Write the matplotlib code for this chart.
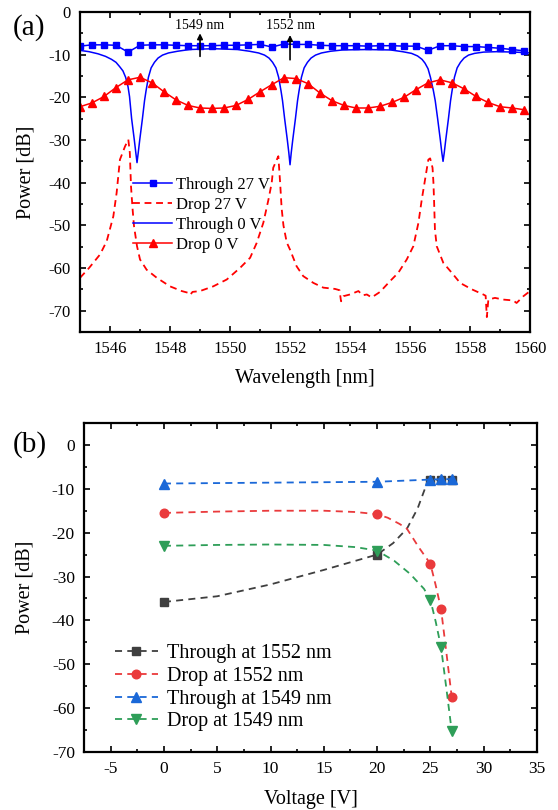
import numpy as np
import matplotlib
matplotlib.use("Agg")
import matplotlib.pyplot as plt
from matplotlib.ticker import MultipleLocator

plt.rcParams['font.family'] = ['Liberation Serif', 'DejaVu Serif']
plt.rcParams['axes.unicode_minus'] = False
plt.rcParams['mathtext.fontset'] = 'stix'

# ---------------- panel (a): spectra ----------------
# markers every 0.4 nm from 1545 to 1559.8
wl_markers = [1545.0, 1545.4, 1545.8, 1546.2, 1546.6, 1547.0, 1547.4, 1547.8, 1548.2, 1548.6,
              1549.0, 1549.4, 1549.8, 1550.2, 1550.6, 1551.0, 1551.4, 1551.8, 1552.2, 1552.6,
              1553.0, 1553.4, 1553.8, 1554.2, 1554.6, 1555.0, 1555.4, 1555.8, 1556.2, 1556.6,
              1557.0, 1557.4, 1557.8, 1558.2, 1558.6, 1559.0, 1559.4, 1559.8]
through_27 = [-8.0, -7.7, -7.7, -7.8, -9.4, -7.8, -7.7, -7.7, -7.8, -7.9,
              -7.9, -7.9, -7.8, -7.8, -7.7, -7.6, -8.2, -7.5, -7.6, -7.6,
              -7.8, -7.9, -7.9, -7.9, -8.0, -7.9, -7.9, -8.0, -8.0, -9.0,
              -7.9, -7.9, -8.1, -8.1, -8.3, -8.5, -8.8, -9.1]
drop_0 = [-22.2, -21.3, -19.8, -17.7, -15.9, -15.3, -16.6, -18.7, -20.6, -21.9,
          -22.5, -22.6, -22.5, -21.9, -20.5, -18.7, -17.0, -15.4, -15.6, -16.8,
          -19.0, -20.8, -21.9, -22.5, -22.5, -22.1, -21.2, -20.0, -18.2, -16.6,
          -15.9, -16.6, -18.0, -19.8, -21.2, -22.2, -22.5, -22.9]

wl_through_0 = [1545.0, 1545.3, 1545.6, 1545.85, 1546.05, 1546.2, 1546.32, 1546.43, 1546.52, 1546.6,
                1546.65, 1546.72, 1546.81, 1546.86, 1546.9, 1546.94, 1546.99, 1547.08, 1547.15, 1547.2,
                1547.28, 1547.37, 1547.48, 1547.6, 1547.75, 1547.95, 1548.25, 1548.65, 1549.45,
                1550.25, 1550.65, 1550.95, 1551.15, 1551.3, 1551.42, 1551.53, 1551.62, 1551.7, 1551.75,
                1551.82, 1551.91, 1551.96, 1552.0, 1552.04, 1552.09, 1552.18, 1552.25, 1552.3, 1552.38,
                1552.47, 1552.58, 1552.7, 1552.85, 1553.05, 1553.35, 1553.75, 1554.55,
                1555.35, 1555.75, 1556.05, 1556.25, 1556.4, 1556.5, 1556.6, 1556.68, 1556.78, 1556.84,
                1556.92, 1557.01, 1557.06, 1557.1, 1557.14, 1557.19, 1557.28, 1557.35, 1557.4, 1557.48,
                1557.57, 1557.68, 1557.8, 1557.95, 1558.15, 1558.45, 1558.9, 1559.5, 1560.0]
through_0 = [-9.0, -9.3, -9.8, -10.4, -11.1, -11.8, -12.8, -13.8, -15.3, -17.5,
             -19.8, -25.0, -30.0, -33.0, -35.3, -33.0, -30.0, -25.0, -20.8, -18.5,
             -15.3, -13.1, -11.8, -10.8, -10.1, -9.6, -9.2, -8.8, -8.6,
             -8.8, -9.2, -9.6, -10.1, -10.8, -11.8, -13.1, -15.3, -18.5, -20.8,
             -25.0, -30.0, -33.0, -35.8, -33.0, -30.0, -25.0, -20.8, -18.5, -15.3,
             -13.1, -11.8, -10.8, -10.1, -9.6, -9.2, -8.9, -8.8,
             -8.9, -9.3, -9.7, -10.3, -11.1, -12.0, -13.3, -15.3, -18.5, -20.8,
             -25.0, -30.0, -33.0, -35.0, -33.0, -30.0, -25.0, -20.8, -18.5, -15.3,
             -13.1, -11.8, -10.8, -10.1, -9.7, -9.4, -9.3, -9.4, -9.6]

wl_drop_27 = [1545.0, 1545.3, 1545.67, 1545.89, 1546.11, 1546.22, 1546.33, 1546.5, 1546.61, 1546.66,
              1546.7, 1546.75, 1546.8, 1546.9, 1547.0, 1547.22, 1547.56, 1548.0, 1548.39, 1548.6,
              1548.67, 1548.75, 1549.0, 1549.44, 1549.89, 1550.33, 1550.67, 1550.89, 1551.11, 1551.28,
              1551.39, 1551.44, 1551.61, 1551.67, 1551.72, 1551.78, 1551.89, 1552.0, 1552.22, 1552.44,
              1552.78, 1553.11, 1553.5, 1553.65, 1553.7, 1553.78, 1554.0, 1554.28, 1554.42, 1554.56,
              1554.72, 1555.0, 1555.33, 1555.61, 1555.89, 1556.11, 1556.28, 1556.39, 1556.5, 1556.61,
              1556.67, 1556.75, 1556.78, 1556.8, 1556.83, 1556.89, 1557.11, 1557.39, 1557.67, 1558.06,
              1558.44, 1558.52, 1558.56, 1558.61, 1558.83, 1559.11, 1559.44, 1559.55, 1559.78, 1560.0]
drop_27 = [-62.3, -60.0, -56.8, -53.7, -47.9, -42.4, -34.6, -31.5, -29.9, -33.0,
           -40.9, -46.0, -50.2, -54.9, -58.0, -60.4, -62.3, -64.3, -65.4, -65.8,
           -66.3, -65.6, -65.4, -64.3, -62.7, -60.0, -57.6, -54.1, -49.4, -44.0,
           -40.0, -36.5, -33.8, -40.0, -46.0, -50.0, -54.0, -55.7, -59.6, -61.9,
           -63.5, -64.6, -64.9, -65.2, -67.8, -66.6, -66.2, -65.4, -66.4, -66.2,
           -66.9, -65.6, -63.1, -61.1, -58.0, -54.9, -49.4, -44.0, -39.3, -34.6,
           -34.3, -36.5, -40.0, -44.0, -51.0, -54.9, -58.8, -61.1, -63.5, -65.0,
           -66.2, -66.5, -71.5, -67.4, -67.0, -67.4, -67.6, -68.2, -66.6, -65.4]

arrow_wl = [1549, 1552]
arrow_labels = ['1549 nm', '1552 nm']

# ---------------- panel (b): power vs voltage ----------------
voltage = [0, 20, 25, 26, 27]
thr_1552 = [-35.8, -25.0, -8.0, -8.0, -8.0]
drop_1552 = [-15.5, -15.8, -27.1, -37.4, -57.4]
thr_1549 = [-8.8, -8.4, -7.9, -7.8, -7.8]
drop_1549 = [-23.0, -24.1, -35.3, -46.1, -65.2]

# connecting curves
v_thr_1552 = [0, 5, 10, 15, 20, 21.5, 22.8, 23.8, 24.7, 25, 26, 27]
c_thr_1552 = [-35.8, -34.5, -31.8, -28.5, -25.0, -22.4, -19.1, -14.5, -8.6, -8.0, -8.0, -8.0]
v_drop_1552 = [0, 5, 10, 15, 18, 20, 21, 22.1, 22.8, 23.9, 25, 25.5, 26, 26.5, 27]
c_drop_1552 = [-15.5, -15.2, -15.0, -15.0, -15.3, -15.8, -16.6, -18.0, -19.1, -23.3, -27.1, -32.0, -37.4, -47.3, -57.4]
v_thr_1549 = [0, 10, 20, 25, 26, 27]
c_thr_1549 = [-8.8, -8.6, -8.4, -7.9, -7.8, -7.8]
v_drop_1549 = [0, 5, 10, 15, 18, 20, 21.6, 23.1, 24.4, 25, 25.5, 26, 26.5, 27]
c_drop_1549 = [-23.0, -22.8, -22.7, -22.8, -23.3, -24.1, -26.4, -29.4, -32.8, -35.3, -40.3, -46.1, -55.5, -65.2]

fig = plt.figure(figsize=(5.58, 8.10), dpi=100)
ax1 = fig.add_axes([0.1434, 0.5901, 0.8065, 0.3951])
ax2 = fig.add_axes([0.1505, 0.0716, 0.8118, 0.4062])


def style_axis(ax, size=12):
    for s in ax.spines.values():
        s.set_linewidth(1.6)
    ax.tick_params(which='both', direction='in', top=True, right=True, labelsize=size)
    ax.tick_params(which='major', length=4.5, width=1.2, pad=6.5)
    ax.tick_params(which='minor', length=2.5, width=1.2)


# (a)
ax1.plot(wl_markers, through_27, color='#0000ff', lw=1.1, marker='s', ms=4.6,
         label='Through 27 V')
ax1.plot(wl_drop_27, drop_27, color='#ff0000', lw=1.3, ls=(0, (3.8, 2.6)),
         label='Drop 27 V')
ax1.plot(wl_through_0, through_0, color='#0000ff', lw=1.1, label='Through 0 V')
ax1.plot(wl_markers, drop_0, color='#ff0000', lw=1.1, marker='^', ms=6,
         label='Drop 0 V')

for w, t, y0, y1 in zip(arrow_wl, arrow_labels, [-10.4, -11.2], [-5.0, -5.4]):
    ax1.annotate('', xy=(w, y1), xytext=(w, y0),
                 arrowprops=dict(arrowstyle='-|>', color='k', lw=1.2, mutation_scale=8,
                                 shrinkA=0, shrinkB=0))
    ax1.text(w, -3.2, t, ha='center', va='center', fontsize=10)

ax1.set_xlim(1545, 1560)
ax1.set_ylim(-75, 0)
ax1.xaxis.set_major_locator(MultipleLocator(2))
ax1.xaxis.set_minor_locator(MultipleLocator(1))
ax1.yaxis.set_major_locator(MultipleLocator(10))
ax1.yaxis.set_minor_locator(MultipleLocator(5))
style_axis(ax1)
ax1.set_xlabel('Wavelength [nm]', fontsize=14.5)
ax1.set_ylabel('Power [dB]', fontsize=14.5)
ax1.xaxis.set_label_coords(0.5, -0.116)
ax1.yaxis.set_label_coords(-0.10, 0.5)
ax1.legend(loc='upper left', bbox_to_anchor=(0.118, 0.484), frameon=False,
           fontsize=12, borderpad=0, borderaxespad=0, handlelength=2.35,
           handletextpad=0.2, labelspacing=0.23)

# (b)
colors_b = ['#3f3f3f', '#ea3a3c', '#1a68d8', '#2e9e58']
markers_b = ['s', 'o', '^', 'v']
sizes_b = [5.5, 6.2, 6.5, 6.5]
labels_b = ['Through at 1552 nm', 'Drop at 1552 nm', 'Through at 1549 nm', 'Drop at 1549 nm']
curves_v = [v_thr_1552, v_drop_1552, v_thr_1549, v_drop_1549]
curves_p = [c_thr_1552, c_drop_1552, c_thr_1549, c_drop_1549]
points_p = [thr_1552, drop_1552, thr_1549, drop_1549]
dash_b = (0, (3.9, 2.9))
for c, m, ms, lab, cv, cp, pp in zip(colors_b, markers_b, sizes_b, labels_b,
                                     curves_v, curves_p, points_p):
    ax2.plot(cv, cp, color=c, lw=1.3, ls=dash_b)
    ax2.plot(voltage, pp, color=c, ls='none', marker=m, ms=ms)
    ax2.plot([], [], color=c, lw=1.3, ls=dash_b, marker=m, ms=ms, label=lab)

ax2.set_xlim(-7.5, 35)
ax2.set_ylim(-70, 5)
ax2.xaxis.set_major_locator(MultipleLocator(5))
ax2.xaxis.set_minor_locator(MultipleLocator(2.5))
ax2.yaxis.set_major_locator(MultipleLocator(10))
ax2.yaxis.set_minor_locator(MultipleLocator(5))
style_axis(ax2, size=12.5)
ax2.set_xlabel('Voltage [V]', fontsize=14.5)
ax2.set_ylabel('Power [dB]', fontsize=14.5)
ax2.xaxis.set_label_coords(0.5, -0.115)
ax2.yaxis.set_label_coords(-0.11, 0.5)
ax2.legend(loc='upper left', bbox_to_anchor=(0.068, 0.328), frameon=False,
           fontsize=14.5, borderpad=0, borderaxespad=0, handlelength=2.15,
           handletextpad=0.45, labelspacing=0.18)

fig.text(0.023, 1 - 28 / 810, '(a)', fontsize=21, va='center', ha='left')
fig.text(0.023, 1 - 445 / 810, '(b)', fontsize=21, va='center', ha='left')

fig.savefig('out.png', dpi=100)
